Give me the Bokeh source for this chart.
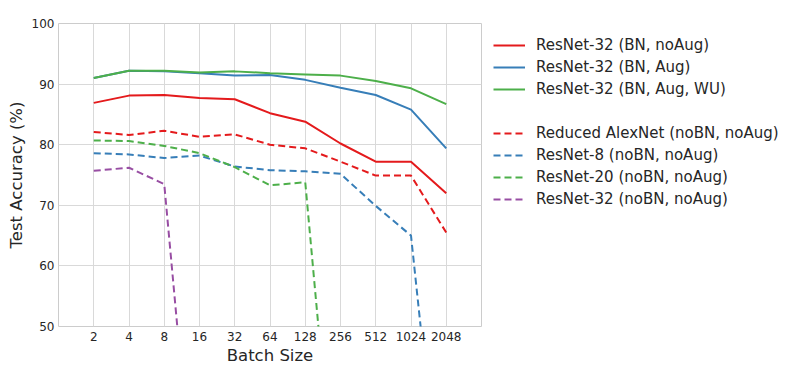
from bokeh.plotting import figure
from bokeh.models import Range1d, FixedTicker, Legend, LegendItem
from bokeh.embed import file_html
from bokeh.resources import INLINE

# ---- data ----
batch_sizes = [2, 4, 8, 16, 32, 64, 128, 256, 512, 1024, 2048]
tick_labels = ["2", "4", "8", "16", "32", "64", "128", "256", "512", "1024", "2048"]
y_ticks = [50, 60, 70, 80, 90, 100]

resnet32_bn_noaug = [86.9, 88.1, 88.2, 87.7, 87.5, 85.2, 83.8, 80.2, 77.2, 77.2, 72.0]
resnet32_bn_aug = [91.0, 92.2, 92.1, 91.8, 91.4, 91.5, 90.7, 89.4, 88.2, 85.8, 79.4]
resnet32_bn_aug_wu = [91.0, 92.2, 92.2, 91.9, 92.1, 91.8, 91.6, 91.4, 90.5, 89.3, 86.7]
alexnet_nobn = [82.1, 81.6, 82.3, 81.3, 81.7, 80.0, 79.4, 77.2, 74.9, 74.9, 65.5]
resnet8_nobn = [78.6, 78.4, 77.8, 78.2, 76.4, 75.8, 75.6, 75.2, 69.9, 65.0, 10.0]
resnet20_nobn = [80.7, 80.6, 79.8, 78.6, 76.3, 73.3, 73.8, 10.0]
resnet32_nobn = [75.7, 76.2, 73.5, 10.0]

RED, BLUE, GREEN, PURPLE = "#e41a1c", "#377eb8", "#4daf4a", "#984ea3"
FONT = "DejaVu Sans"
TXT = "#262626"

p = figure(frame_width=423, frame_height=303, output_backend="svg", toolbar_location=None,
           x_axis_type="log", x_range=Range1d(1, 4096), y_range=Range1d(50, 100),
           min_border_left=58, min_border_right=0, min_border_top=23, min_border_bottom=46)
p.background_fill_color = "white"
p.border_fill_color = "white"
p.outline_line_color = "#cccccc"
p.outline_line_width = 1

series = [
    ("ResNet-32 (BN, noAug)", resnet32_bn_noaug, RED, "solid"),
    ("ResNet-32 (BN, Aug)", resnet32_bn_aug, BLUE, "solid"),
    ("ResNet-32 (BN, Aug, WU)", resnet32_bn_aug_wu, GREEN, "solid"),
    (None, None, None, None),
    ("Reduced AlexNet (noBN, noAug)", alexnet_nobn, RED, "7 4"),
    ("ResNet-8 (noBN, noAug)", resnet8_nobn, BLUE, "7 4"),
    ("ResNet-20 (noBN, noAug)", resnet20_nobn, GREEN, "7 4"),
    ("ResNet-32 (noBN, noAug)", resnet32_nobn, PURPLE, "7 4"),
]

items = []
for label, vals, color, dash in series:
    if label is None:
        r = p.line(batch_sizes[:2], [60, 60], line_alpha=0)
        items.append(LegendItem(label=" ", renderers=[r]))
        continue
    r = p.line(batch_sizes[:len(vals)], vals, line_color=color, line_width=2,
               line_dash=dash)
    items.append(LegendItem(label=label, renderers=[r]))

# axes
for ax in (p.xaxis[0], p.yaxis[0]):
    ax.axis_line_color = None
    ax.major_tick_line_color = None
    ax.minor_tick_line_color = None
    ax.major_tick_out = 0
    ax.major_tick_in = 0
    ax.minor_tick_out = 0
    ax.minor_tick_in = 0
    ax.major_label_text_font = FONT
    ax.major_label_text_font_size = "12px"
    ax.major_label_text_color = TXT
    ax.axis_label_text_font = FONT
    ax.axis_label_text_font_size = "16.5px"
    ax.axis_label_text_font_style = "normal"
    ax.axis_label_text_color = TXT

p.xaxis[0].ticker = FixedTicker(ticks=batch_sizes, minor_ticks=[])
p.xaxis[0].major_label_overrides = {b: t for b, t in zip(batch_sizes, tick_labels)}
p.xaxis[0].axis_label = "Batch Size"
p.xaxis[0].major_label_standoff = 5
p.xaxis[0].axis_label_standoff = 2

p.yaxis[0].ticker = FixedTicker(ticks=y_ticks, minor_ticks=[])
p.yaxis[0].major_label_overrides = {v: str(v) for v in y_ticks}
p.yaxis[0].axis_label = "Test Accuracy (%)"
p.yaxis[0].major_label_standoff = 4
p.yaxis[0].axis_label_standoff = 3

p.xgrid.grid_line_color = "#d9d9d9"
p.ygrid.grid_line_color = "#d9d9d9"
p.xgrid.grid_line_width = 1
p.ygrid.grid_line_width = 1

legend = Legend(items=items, location="top_left", orientation="vertical",
                padding=0, margin=12, spacing=2,
                glyph_width=32, glyph_height=20, label_height=20,
                label_standoff=11,
                label_text_font=FONT, label_text_font_size="15px",
                label_text_color=TXT,
                border_line_color=None, background_fill_alpha=0)
p.add_layout(legend, "right")

open("out.html", "w").write(file_html(p, INLINE))
